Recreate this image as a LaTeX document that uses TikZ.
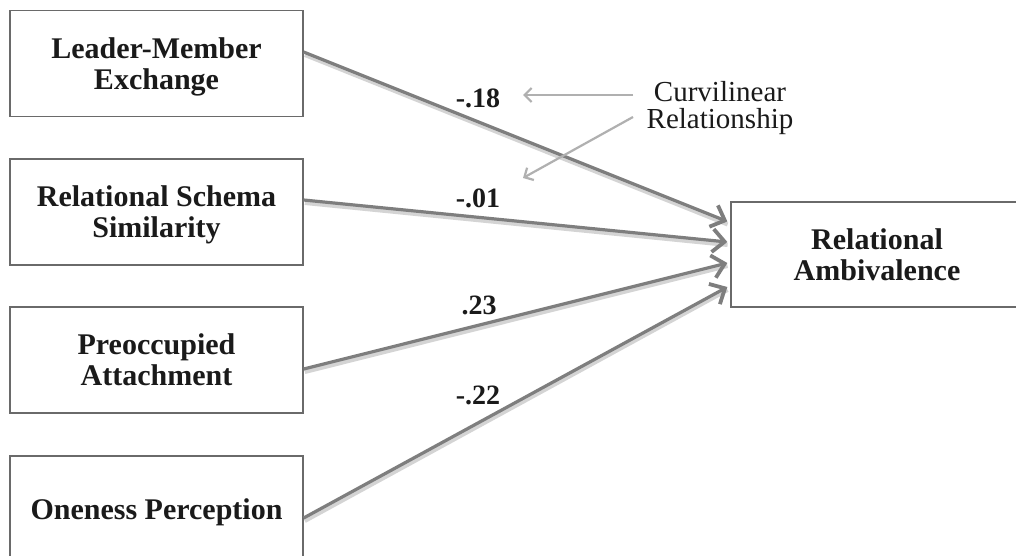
\documentclass[tikz,border=0pt]{standalone}
\usepackage{fontspec}
\setmainfont{Liberation Serif}
\usetikzlibrary{arrows.meta}
\definecolor{linegray}{HTML}{7E7E7E}
\definecolor{shadowgray}{HTML}{D4D4D4}
\definecolor{boxgray}{HTML}{6A6A6A}
\definecolor{notegray}{HTML}{B0B0B0}
\definecolor{textblack}{HTML}{1A1A1A}
\begin{document}
\begin{tikzpicture}[x=1pt,y=-1pt,
  box/.style={draw=boxgray, line width=1.3pt, minimum width=293pt, minimum height=106pt,
    align=center, inner sep=0pt, text=textblack, text depth=0pt,
    font=\fontsize{30}{31}\selectfont\bfseries},
  coef/.style={inner sep=0pt, text=textblack, font=\fontsize{28}{28}\selectfont\bfseries},
  note/.style={inner sep=0pt, align=center, text=textblack,
    font=\fontsize{29}{27.5}\selectfont},
  path/.style={draw=linegray, line width=3.2pt,
    -{Straight Barb[length=12pt,width=23pt,line width=3.8pt]}},
  pathshadow/.style={draw=shadowgray, line width=4pt, transform canvas={xshift=1.2pt,yshift=-3pt}},
  pointer/.style={draw=notegray, line width=2.2pt,
    -{Straight Barb[length=7pt,width=14pt,line width=2.2pt]}}
]
\useasboundingbox (0,0) rectangle (1016,556);
\clip (0,0) rectangle (1016,556);
\fill[white] (0,0) rectangle (1016,556);

% predictors
\node[box] (lmx) at (156.5,63.5) {Leader-Member\\Exchange};
\node[box] (rss) at (156.5,212) {Relational Schema\\Similarity};
\node[box] (pa)  at (156.5,360) {Preoccupied\\Attachment};
\node[box] (op)  at (156.5,509) {Oneness Perception};

% outcome
\node[box, minimum width=292pt, minimum height=105pt] (ra) at (877,254.5) {Relational\\Ambivalence};

% soft shadows under the paths
\draw[pathshadow] ([yshift=11.5pt]lmx.east) -- ([xshift=-4pt,yshift=33pt]ra.west);
\draw[pathshadow] ([yshift=12pt]rss.east)  -- ([xshift=-4pt,yshift=12.5pt]ra.west);
\draw[pathshadow] ([yshift=-9pt]pa.east)   -- ([xshift=-4pt,yshift=-8.5pt]ra.west);
\draw[pathshadow] ([yshift=-9pt]op.east)   -- ([xshift=-4pt,yshift=-32.5pt]ra.west);

% structural paths
\draw[path] ([yshift=11.5pt]lmx.east) -- ([xshift=-3pt,yshift=33pt]ra.west);
\draw[path] ([yshift=12pt]rss.east)  -- ([xshift=-3pt,yshift=12.5pt]ra.west);
\draw[path] ([yshift=-9pt]pa.east)   -- ([xshift=-3pt,yshift=-8.5pt]ra.west);
\draw[path] ([yshift=-9pt]op.east)   -- ([xshift=-3pt,yshift=-32.5pt]ra.west);

% path coefficients
\node[coef] (k1) at (478,98)  {-.18};
\node[coef] (k2) at (478,198) {-.01};
\node[coef] (k3) at (479,305) {.23};
\node[coef] (k4) at (478,395) {-.22};

% annotation
\node[note] (cv) at (720,108) {Curvilinear\\Relationship};
\coordinate (p1s) at (633,95);
\coordinate (p1e) at (523,95);
\coordinate (p2s) at (633,117);
\coordinate (p2e) at (523,178);
\draw[pointer] (p1s) -- (p1e);
\draw[pointer] (p2s) -- (p2e);
\end{tikzpicture}
\end{document}
